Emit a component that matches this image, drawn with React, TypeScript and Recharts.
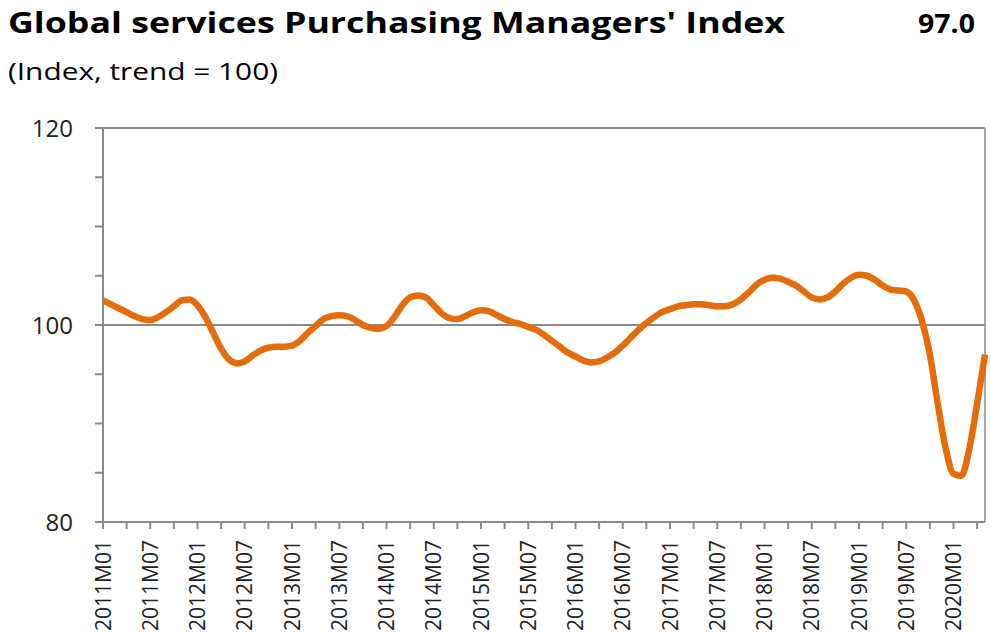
import { LineChart, Line, XAxis, YAxis, ReferenceLine } from "recharts";

const months: string[] = [];
for (let y = 2011; y <= 2020; y++) {
  for (let m = 1; m <= 12; m++) {
    if (y === 2020 && m > 5) break;
    months.push(`${y}M${String(m).padStart(2, "0")}`);
  }
}

// one value per month from 2011M01 to 2020M05
const pmi = [
  102.5, 102.1, 101.7, 101.3, 100.9, 100.6, 100.5, 100.8, 101.3, 101.9, 102.5, 102.6,
  102.0, 100.8, 99.2, 97.6, 96.5, 96.1, 96.3, 96.9, 97.4, 97.7, 97.8, 97.8,
  97.9, 98.4, 99.2, 99.9, 100.6, 100.9, 101.0, 100.9, 100.5, 100.0, 99.7, 99.6,
  99.9, 100.8, 102.0, 102.8, 103.0, 102.8, 102.0, 101.2, 100.7, 100.6, 100.9, 101.3,
  101.5, 101.4, 101.0, 100.6, 100.3, 100.1, 99.8, 99.5, 99.0, 98.4, 97.8, 97.2,
  96.8, 96.4, 96.2, 96.3, 96.7, 97.2, 97.9, 98.7, 99.5, 100.2, 100.8, 101.3,
  101.6, 101.9, 102.0, 102.1, 102.1, 102.0, 101.9, 101.9, 102.1, 102.6, 103.3, 104.1,
  104.6, 104.8, 104.7, 104.4, 104.0, 103.4, 102.8, 102.6, 102.8, 103.4, 104.2, 104.8,
  105.1, 105.0, 104.6, 104.0, 103.6, 103.5, 103.4, 102.5, 100.4, 97.0, 92.0, 87.5,
  84.9, 84.7, 87.4, 92.0, 97.0,
];

const yTicks = [80, 85, 90, 95, 100, 105, 110, 115, 120];
const yLabels = [80, 100, 120];

const data = months.map((m, i) => ({ month: m, value: pmi[i] }));

const FONT = "'Open Sans', sans-serif";
const GREY = "#8a8a8a";

function XTick(props: any) {
  const { x, y, payload } = props;
  const v: string = payload.value;
  if (!v.endsWith("M01") && !v.endsWith("M07")) return null;
  return (
    <text
      x={0}
      y={0}
      dy="0.36em"
      transform={`translate(${x},${y}) rotate(-90)`}
      textAnchor="end"
      fontFamily={FONT}
      fontSize={21}
      fill="#222"
    >
      {v}
    </text>
  );
}

function YTick(props: any) {
  const { x, y, payload } = props;
  if (!yLabels.includes(payload.value)) return null;
  return (
    <text x={x} y={y} dy="0.36em" textAnchor="end" fontFamily={FONT} fontSize={24} fill="#222">
      {payload.value}
    </text>
  );
}

export default function App() {
  return (
    <div style={{ position: "absolute", left: 0, top: 0, width: 991, height: 634, background: "#fff", overflow: "hidden" }}>
      <svg width={991} height={100} style={{ position: "absolute", left: 0, top: 0 }}>
        <text
          x={8}
          y={33}
          fontFamily={FONT}
          fontWeight="bold"
          fontSize={29}
          fill="#000"
          textLength={777}
          lengthAdjust="spacingAndGlyphs"
        >
          Global services Purchasing Managers' Index
        </text>
        <text
          x={918}
          y={33}
          fontFamily={FONT}
          fontWeight="bold"
          fontSize={26}
          fill="#000"
          textLength={57}
          lengthAdjust="spacingAndGlyphs"
        >
          97.0
        </text>
        <text x={8} y={80} fontFamily={FONT} fontSize={23} fill="#000" textLength={270} lengthAdjust="spacingAndGlyphs">
          (Index, trend = 100)
        </text>
      </svg>
      <div style={{ position: "absolute", left: 0, top: 0 }}>
        <LineChart width={991} height={634} data={data} margin={{ top: 128, right: 6, bottom: 0, left: 0 }}>
          <XAxis
            dataKey="month"
            interval={2}
            height={112}
            tickSize={7}
            tickMargin={11}
            tick={<XTick />}
            stroke={GREY}
            strokeWidth={2}
            tickLine={{ stroke: GREY, strokeWidth: 2 }}
            padding={{ left: 0, right: 0 }}
          />
          <YAxis
            domain={[80, 120]}
            ticks={yTicks}
            interval={0}
            width={103}
            tickSize={8}
            tickMargin={22}
            tick={<YTick />}
            stroke={GREY}
            strokeWidth={2}
            tickLine={{ stroke: GREY, strokeWidth: 2 }}
            allowDataOverflow
          />
          <ReferenceLine y={100} stroke={GREY} strokeWidth={2} />
          <ReferenceLine y={120} stroke={GREY} strokeWidth={2} />
          <ReferenceLine x="2020M05" stroke={GREY} strokeWidth={1.5} />
          <Line
            type="monotone"
            dataKey="value"
            stroke="#e46c0a"
            strokeWidth={6.5}
            dot={false}
            activeDot={false}
            isAnimationActive={false}
          />
        </LineChart>
      </div>
    </div>
  );
}
